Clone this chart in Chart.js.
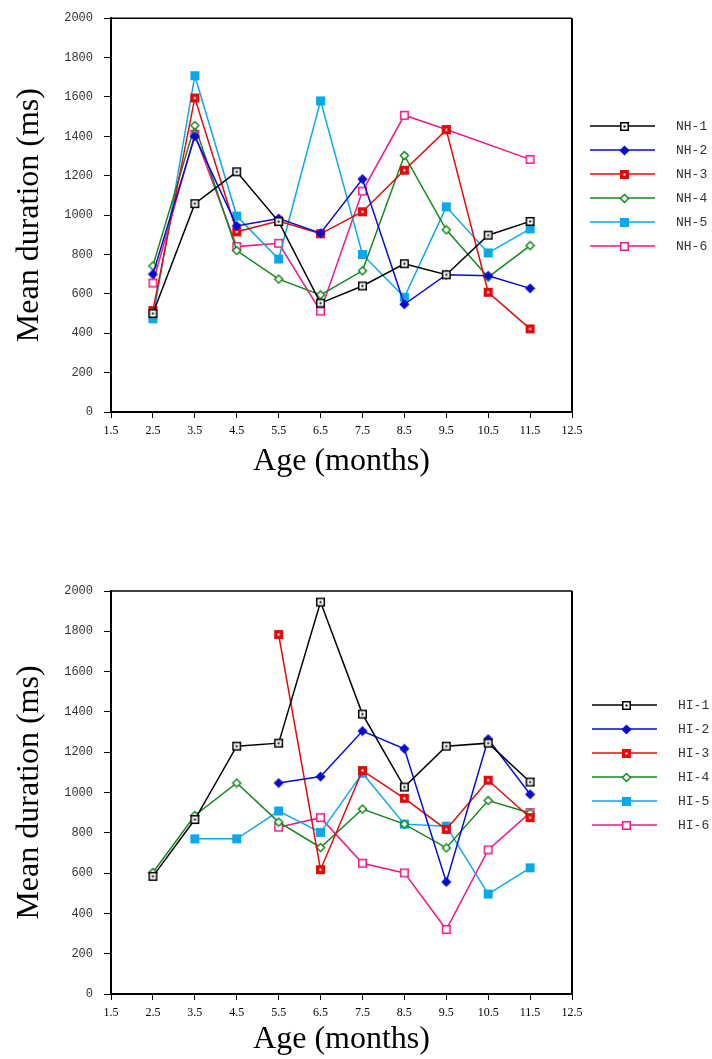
<!DOCTYPE html>
<html>
<head>
<meta charset="utf-8">
<script src="https://cdn.jsdelivr.net/npm/chart.js@4.4.1/dist/chart.umd.min.js"></script>
<style>
  html, body { margin: 0; padding: 0; background: #fff; }
  canvas { display: block; }
</style>
</head>
<body>
<canvas id="nhChart" width="712" height="530"></canvas>
<canvas id="hiChart" width="712" height="529"></canvas>
<script>
// ages where sessions were measured
const ages = [2.5, 3.5, 4.5, 5.5, 6.5, 7.5, 8.5, 9.5, 10.5, 11.5];
const xTicks = [1.5, 2.5, 3.5, 4.5, 5.5, 6.5, 7.5, 8.5, 9.5, 10.5, 11.5, 12.5];
const yTicks = [0, 200, 400, 600, 800, 1000, 1200, 1400, 1600, 1800, 2000];

// normal hearing infants (ms)
const nhLabels = ['NH-1', 'NH-2', 'NH-3', 'NH-4', 'NH-5', 'NH-6'];
const nh1 = [500, 1058, 1220, 967, 553, 640, 753, 697, 898, 968];
const nh2 = [700, 1400, 945, 983, 908, 1183, 547, 697, 692, 628];
const nh3 = [515, 1595, 915, 970, 905, 1017, 1228, 1433, 608, 422];
const nh4 = [742, 1455, 820, 675, 595, 717, 1303, 925, 685, 845];
const nh5 = [473, 1708, 995, 777, 1580, 800, 583, 1042, 808, 930];
const nh6 = [655, 1410, 840, 857, 512, 1122, 1507, 1435, null, 1283];

// hearing impaired infants (ms)
const hiLabels = ['HI-1', 'HI-2', 'HI-3', 'HI-4', 'HI-5', 'HI-6'];
const hi1 = [584, 866, 1230, 1245, 1945, 1389, 1027, 1230, 1245, 1052];
const hi2 = [null, null, null, 1047, 1079, 1305, 1217, 556, 1265, 991];
const hi3 = [null, null, null, 1784, 617, 1109, 971, 817, 1061, 875];
const hi4 = [603, 886, 1047, 853, 727, 918, 843, 725, 960, 898];
const hi5 = [null, 770, 770, 908, 802, 1096, 843, 833, 496, 626];
const hi6 = [null, null, null, 828, 875, 649, 601, 320, 715, 900];

const serif = "'Liberation Serif', 'Times New Roman', serif";
const mono = "'Liberation Mono', 'Courier New', monospace";

// marker drawn into a small canvas so Chart.js can use it as pointStyle
function makeMarker(shape, color, fill, dot) {
    const s = 11;
    const c = document.createElement('canvas');
    c.width = s;
    c.height = s;
    const g = c.getContext('2d');
    const m = s / 2;
    g.lineWidth = 1.5;
    g.strokeStyle = color;
    g.fillStyle = fill;
    g.beginPath();
    if (shape === 'square') {
        g.rect(1.75, 1.75, 7.5, 7.5);
    } else {
        g.moveTo(m, 1.5);
        g.lineTo(s - 1.5, m);
        g.lineTo(m, s - 1.5);
        g.lineTo(1.5, m);
        g.closePath();
    }
    g.fill();
    g.stroke();
    if (dot) {
        g.fillStyle = dot;
        g.fillRect(m - 1, m - 1, 2, 2);
    }
    return c;
}

const styles = [
    { color: '#000000', marker: makeMarker('square', '#000000', '#ffffff', '#000000') },
    { color: '#0a0ad2', marker: makeMarker('diamond', '#0a0ad2', '#0a0ad2') },
    { color: '#e00c0c', marker: makeMarker('square', '#e00c0c', '#e00c0c', '#ffffff') },
    { color: '#14881e', marker: makeMarker('diamond', '#14881e', '#ffffff') },
    { color: '#0aa8e8', marker: makeMarker('square', '#0aa8e8', '#0aa8e8') },
    { color: '#ee1a86', marker: makeMarker('square', '#ee1a86', '#ffffff') }
];

function toPoints(values) {
    return values.map((v, i) => ({ x: ages[i], y: v }));
}

function buildDatasets(labels, series) {
    return series.map((values, i) => ({
        label: labels[i],
        data: toPoints(values),
        borderColor: styles[i].color,
        backgroundColor: styles[i].color,
        borderWidth: 1.5,
        pointStyle: styles[i].marker,
        pointRadius: 5,
        tension: 0,
        spanGaps: true
    }));
}

// top and right edge of the plot box
const framePlugin = {
    id: 'frame',
    afterDraw(chart) {
        const { ctx, chartArea: a } = chart;
        ctx.save();
        ctx.strokeStyle = '#000';
        ctx.lineWidth = 1.5;
        ctx.beginPath();
        ctx.moveTo(a.left, a.top);
        ctx.lineTo(a.right, a.top);
        ctx.stroke();
        ctx.lineWidth = 2;
        ctx.beginPath();
        ctx.moveTo(a.right, a.top);
        ctx.lineTo(a.right, a.bottom);
        ctx.stroke();
        ctx.restore();
    }
};

// legend on the right: line sample with marker, then the label
const sideLegend = {
    id: 'sideLegend',
    afterDraw(chart, args, opts) {
        const ctx = chart.ctx;
        ctx.save();
        ctx.font = '13px ' + mono;
        ctx.textBaseline = 'middle';
        ctx.textAlign = 'left';
        chart.data.datasets.forEach((ds, i) => {
            const y = opts.top + i * 24;
            ctx.strokeStyle = ds.borderColor;
            ctx.lineWidth = 1.5;
            ctx.beginPath();
            ctx.moveTo(opts.left, y);
            ctx.lineTo(opts.left + 65, y);
            ctx.stroke();
            const mk = ds.pointStyle;
            ctx.drawImage(mk, Math.round(opts.left + 34 - mk.width / 2), Math.round(y - mk.height / 2));
            ctx.fillStyle = '#333';
            ctx.fillText(ds.label, opts.left + 86, y + 1);
        });
        ctx.restore();
    }
};

function renderChart(canvasId, labels, series, cfg) {
    const ctx = document.getElementById(canvasId).getContext('2d');
    return new Chart(ctx, {
        type: 'line',
        data: { datasets: buildDatasets(labels, series) },
        plugins: [framePlugin, sideLegend],
        options: {
            responsive: false,
            animation: false,
            layout: { padding: { top: cfg.top, right: 140, bottom: 0, left: 0 } },
            plugins: {
                legend: { display: false },
                tooltip: { enabled: false },
                sideLegend: { left: cfg.legendLeft, top: cfg.legendTop }
            },
            scales: {
                x: {
                    type: 'linear',
                    min: 1.5,
                    max: 12.5,
                    afterBuildTicks: (scale) => { scale.ticks = xTicks.map(v => ({ value: v })); },
                    afterFit: (scale) => { scale.height = cfg.xHeight; },
                    ticks: {
                        callback: (v) => Number(v).toFixed(1),
                        font: { family: serif, size: 12 },
                        color: '#000',
                        padding: 6,
                        maxRotation: 0,
                        autoSkip: false
                    },
                    grid: { drawOnChartArea: false, tickLength: 6, color: '#000', lineWidth: 1 },
                    border: { color: '#000', width: 2 },
                    title: {
                        display: true,
                        text: 'Age (months)',
                        font: { family: serif, size: 32 },
                        color: '#000',
                        padding: { top: 0, bottom: cfg.xTitlePad }
                    }
                },
                y: {
                    min: 0,
                    max: 2000,
                    afterBuildTicks: (scale) => { scale.ticks = yTicks.map(v => ({ value: v })); },
                    afterFit: (scale) => { scale.width = 111; },
                    ticks: {
                        callback: (v) => String(v),
                        font: { family: mono, size: 12 },
                        color: '#333',
                        padding: 11
                    },
                    grid: { drawOnChartArea: false, tickLength: 7, color: '#000', lineWidth: 1 },
                    border: { color: '#000', width: 2 },
                    title: {
                        display: true,
                        text: 'Mean duration (ms)',
                        font: { family: serif, size: 32 },
                        color: '#000',
                        padding: { top: 10, bottom: 0 }
                    }
                }
            }
        }
    });
}

renderChart('nhChart', nhLabels, [nh1, nh2, nh3, nh4, nh5, nh6],
    { top: 12, xHeight: 118, xTitlePad: 49, legendLeft: 590, legendTop: 126 });
renderChart('hiChart', hiLabels, [hi1, hi2, hi3, hi4, hi5, hi6],
    { top: 61, xHeight: 65, xTitlePad: 0, legendLeft: 592, legendTop: 175 });
</script>
</body>
</html>
